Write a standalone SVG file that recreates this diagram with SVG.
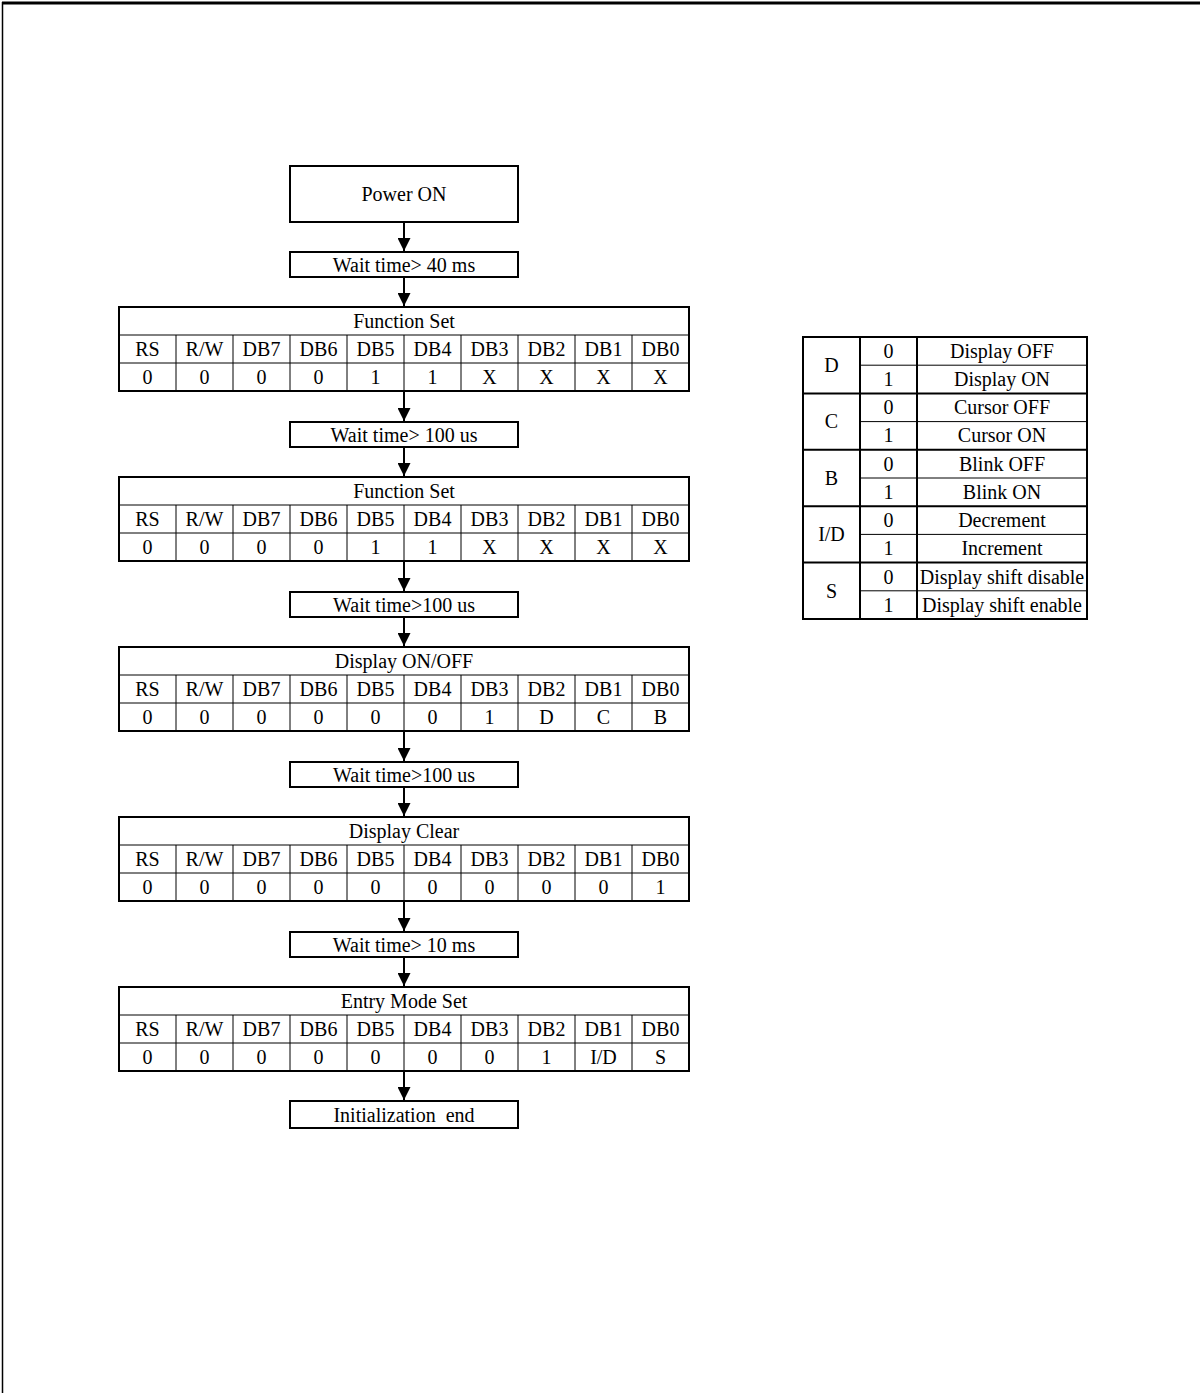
<svg xmlns="http://www.w3.org/2000/svg" xmlns:xlink="http://www.w3.org/1999/xlink" width="1200" height="1393" viewBox="0 0 1200 1393">
<style>
text{font-family:"Liberation Serif","Times New Roman",serif;font-size:20px;fill:#000;text-anchor:middle}
.box{fill:#fff;stroke:#000;stroke-width:2}
.thin{stroke:#000;stroke-width:1;fill:none}
.thick{stroke:#000;stroke-width:2;fill:none}
.conn{stroke:#000;stroke-width:2;fill:none;marker-end:url(#ah)}
</style>
<defs>
<marker id="ah" markerUnits="userSpaceOnUse" markerWidth="13" markerHeight="13" refX="13" refY="6.5" orient="auto" viewBox="0 0 13 13">
<path d="M0,0 L13,6.5 L0,13 z" fill="#000"/>
</marker>
<g id="grid">
<rect x="119" y="0" width="570" height="84" class="box"/>
<path class="thin" d="M119,28H689M119,56H689M176,28V84M233,28V84M290,28V84M347,28V84M404,28V84M461,28V84M518,28V84M575,28V84M632,28V84"/>
</g>
</defs>
<rect width="1200" height="1393" fill="#fff"/>
<g id="page-border">
<path d="M2,3H1200" stroke="#000" stroke-width="3"/>
<path d="M2.5,2V1393" stroke="#000" stroke-width="1.5"/>
</g>

<g id="connectors">
<path class="conn" d="M404,222V251"/>
<path class="conn" d="M404,277V306"/>
<path class="conn" d="M404,391V421"/>
<path class="conn" d="M404,447V476"/>
<path class="conn" d="M404,561V591"/>
<path class="conn" d="M404,617V646"/>
<path class="conn" d="M404,731V761"/>
<path class="conn" d="M404,787V816"/>
<path class="conn" d="M404,901V931"/>
<path class="conn" d="M404,957V986"/>
<path class="conn" d="M404,1071V1100"/>
</g>

<g id="power-on">
<rect x="290" y="166" width="228" height="56" class="box"/>
<text x="404" y="201">Power ON</text>
</g>
<g id="wait-1">
<rect x="290" y="252" width="228" height="25" class="box"/>
<text x="404" y="272">Wait time&gt; 40 ms</text>
</g>

<g id="function-set-1">
<use xlink:href="#grid" y="307"/>
<text x="404" y="328">Function Set</text>
<text x="147.5" y="356">RS</text><text x="204.5" y="356">R/W</text><text x="261.5" y="356">DB7</text><text x="318.5" y="356">DB6</text><text x="375.5" y="356">DB5</text><text x="432.5" y="356">DB4</text><text x="489.5" y="356">DB3</text><text x="546.5" y="356">DB2</text><text x="603.5" y="356">DB1</text><text x="660.5" y="356">DB0</text>
<text x="147.5" y="384">0</text><text x="204.5" y="384">0</text><text x="261.5" y="384">0</text><text x="318.5" y="384">0</text><text x="375.5" y="384">1</text><text x="432.5" y="384">1</text><text x="489.5" y="384">X</text><text x="546.5" y="384">X</text><text x="603.5" y="384">X</text><text x="660.5" y="384">X</text>
</g>
<g id="wait-2">
<rect x="290" y="422" width="228" height="25" class="box"/>
<text x="404" y="442">Wait time&gt; 100 us</text>
</g>

<g id="function-set-2">
<use xlink:href="#grid" y="477"/>
<text x="404" y="498">Function Set</text>
<text x="147.5" y="526">RS</text><text x="204.5" y="526">R/W</text><text x="261.5" y="526">DB7</text><text x="318.5" y="526">DB6</text><text x="375.5" y="526">DB5</text><text x="432.5" y="526">DB4</text><text x="489.5" y="526">DB3</text><text x="546.5" y="526">DB2</text><text x="603.5" y="526">DB1</text><text x="660.5" y="526">DB0</text>
<text x="147.5" y="554">0</text><text x="204.5" y="554">0</text><text x="261.5" y="554">0</text><text x="318.5" y="554">0</text><text x="375.5" y="554">1</text><text x="432.5" y="554">1</text><text x="489.5" y="554">X</text><text x="546.5" y="554">X</text><text x="603.5" y="554">X</text><text x="660.5" y="554">X</text>
</g>
<g id="wait-3">
<rect x="290" y="592" width="228" height="25" class="box"/>
<text x="404" y="612">Wait time&gt;100 us</text>
</g>

<g id="display-on-off">
<use xlink:href="#grid" y="647"/>
<text x="404" y="668">Display ON/OFF</text>
<text x="147.5" y="696">RS</text><text x="204.5" y="696">R/W</text><text x="261.5" y="696">DB7</text><text x="318.5" y="696">DB6</text><text x="375.5" y="696">DB5</text><text x="432.5" y="696">DB4</text><text x="489.5" y="696">DB3</text><text x="546.5" y="696">DB2</text><text x="603.5" y="696">DB1</text><text x="660.5" y="696">DB0</text>
<text x="147.5" y="724">0</text><text x="204.5" y="724">0</text><text x="261.5" y="724">0</text><text x="318.5" y="724">0</text><text x="375.5" y="724">0</text><text x="432.5" y="724">0</text><text x="489.5" y="724">1</text><text x="546.5" y="724">D</text><text x="603.5" y="724">C</text><text x="660.5" y="724">B</text>
</g>
<g id="wait-4">
<rect x="290" y="762" width="228" height="25" class="box"/>
<text x="404" y="782">Wait time&gt;100 us</text>
</g>

<g id="display-clear">
<use xlink:href="#grid" y="817"/>
<text x="404" y="838">Display Clear</text>
<text x="147.5" y="866">RS</text><text x="204.5" y="866">R/W</text><text x="261.5" y="866">DB7</text><text x="318.5" y="866">DB6</text><text x="375.5" y="866">DB5</text><text x="432.5" y="866">DB4</text><text x="489.5" y="866">DB3</text><text x="546.5" y="866">DB2</text><text x="603.5" y="866">DB1</text><text x="660.5" y="866">DB0</text>
<text x="147.5" y="894">0</text><text x="204.5" y="894">0</text><text x="261.5" y="894">0</text><text x="318.5" y="894">0</text><text x="375.5" y="894">0</text><text x="432.5" y="894">0</text><text x="489.5" y="894">0</text><text x="546.5" y="894">0</text><text x="603.5" y="894">0</text><text x="660.5" y="894">1</text>
</g>
<g id="wait-5">
<rect x="290" y="932" width="228" height="25" class="box"/>
<text x="404" y="952">Wait time&gt; 10 ms</text>
</g>

<g id="entry-mode-set">
<use xlink:href="#grid" y="987"/>
<text x="404" y="1008">Entry Mode Set</text>
<text x="147.5" y="1036">RS</text><text x="204.5" y="1036">R/W</text><text x="261.5" y="1036">DB7</text><text x="318.5" y="1036">DB6</text><text x="375.5" y="1036">DB5</text><text x="432.5" y="1036">DB4</text><text x="489.5" y="1036">DB3</text><text x="546.5" y="1036">DB2</text><text x="603.5" y="1036">DB1</text><text x="660.5" y="1036">DB0</text>
<text x="147.5" y="1064">0</text><text x="204.5" y="1064">0</text><text x="261.5" y="1064">0</text><text x="318.5" y="1064">0</text><text x="375.5" y="1064">0</text><text x="432.5" y="1064">0</text><text x="489.5" y="1064">0</text><text x="546.5" y="1064">1</text><text x="603.5" y="1064">I/D</text><text x="660.5" y="1064">S</text>
</g>
<g id="init-end">
<rect x="290" y="1101" width="228" height="27" class="box"/>
<text x="404" y="1122" xml:space="preserve">Initialization  end</text>
</g>

<g id="legend-table">
<path class="thin" d="M860,365.2H1087M860,421.6H1087M860,478H1087M860,534.4H1087M860,590.8H1087"/>
<path class="thick" d="M803,393.4H1087M803,449.8H1087M803,506.2H1087M803,562.6H1087M860,337V619M917,337V619"/>
<rect x="803" y="337" width="284" height="282" class="thick"/>
<text x="831.5" y="372">D</text>
<text x="831.5" y="428">C</text>
<text x="831.5" y="485">B</text>
<text x="831.5" y="541">I/D</text>
<text x="831.5" y="598">S</text>
<text x="888.5" y="358">0</text><text x="1002" y="358">Display OFF</text>
<text x="888.5" y="386">1</text><text x="1002" y="386">Display ON</text>
<text x="888.5" y="414">0</text><text x="1002" y="414">Cursor OFF</text>
<text x="888.5" y="442">1</text><text x="1002" y="442">Cursor ON</text>
<text x="888.5" y="471">0</text><text x="1002" y="471">Blink OFF</text>
<text x="888.5" y="499">1</text><text x="1002" y="499">Blink ON</text>
<text x="888.5" y="527">0</text><text x="1002" y="527">Decrement</text>
<text x="888.5" y="555">1</text><text x="1002" y="555">Increment</text>
<text x="888.5" y="584">0</text><text x="1002" y="584">Display shift disable</text>
<text x="888.5" y="612">1</text><text x="1002" y="612">Display shift enable</text>
</g>
</svg>
